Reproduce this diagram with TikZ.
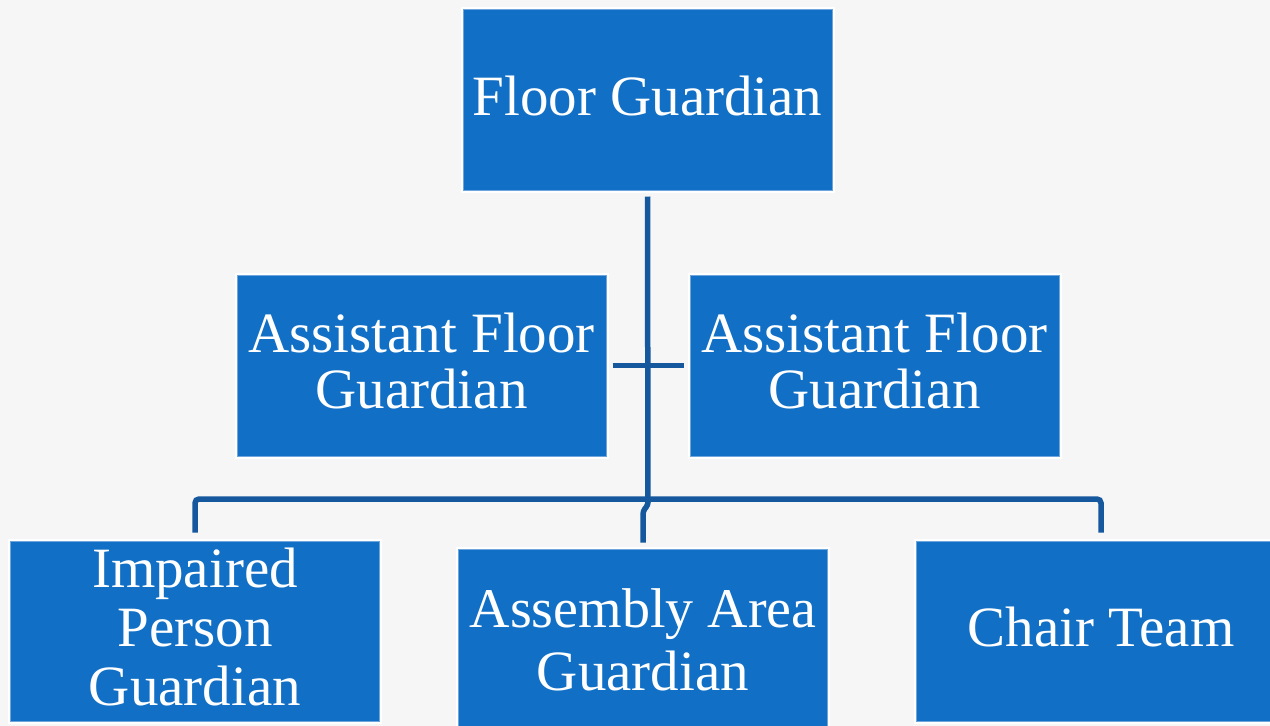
\documentclass[tikz,border=0pt]{standalone}
\usepackage{fontspec}
\setmainfont{Liberation Serif}
\definecolor{bg}{RGB}{246,246,246}
\definecolor{boxblue}{RGB}{17,112,198}
\definecolor{boxedge}{RGB}{110,165,220}
\definecolor{linkblue}{RGB}{22,88,158}
\begin{document}
\begin{tikzpicture}[x=1pt,y=-1pt,
  box/.style={draw=boxedge, line width=1pt, fill=boxblue, minimum width=369pt,
    minimum height=181pt, inner sep=0pt,
    preaction={draw=white, line width=5pt}},
  lbl/.style={text=white, font=\fontsize{57}{57}\selectfont, inner sep=0pt, anchor=base},
  conn/.style={draw=linkblue, line width=5.5pt}]
\useasboundingbox (0,0) rectangle (1270,726);
\fill[bg] (0,0) rectangle (1270,726);
\begin{scope}
\clip (0,0) rectangle (1270,726);
\node[box] (fg) at (647.5,99.5) {};
\node[box] (afl) at (421.5,365.5) {};
\node[box] (afr) at (874.5,365.5) {};
\node[box, minimum height=180pt] (ipg) at (195,631) {};
\node[box] (aag) at (643,639.5) {};
\node[box, minimum height=180pt, minimum width=370pt] (ct) at (1101,631) {};
\end{scope}
\node[lbl] (fgt) at (647.5,115) {Floor Guardian};
\node[lbl] (afl1) at (421.5,352) {Assistant Floor};
\node[lbl] (afl2) at (421.5,408) {Guardian};
\node[lbl] (afr1) at (874.5,352) {Assistant Floor};
\node[lbl] (afr2) at (874.5,408) {Guardian};
\node[lbl] (ipg1) at (195,587) {Impaired};
\node[lbl] (ipg2) at (195,646) {Person};
\node[lbl] (ipg3) at (195,705) {Guardian};
\node[lbl, font=\fontsize{56}{56}\selectfont] (aag1) at (643,627) {Assembly Area};
\node[lbl] (aag2) at (643,690) {Guardian};
\node[lbl] (ct1) at (1101,646) {Chair Team};
% connectors
\coordinate (jogA) at (648,505);
\coordinate (jogB) at (643,511);
\draw[conn, rounded corners=3pt] ([yshift=-6pt]fg.south) -- (jogA) -- (jogB) -- ([yshift=6pt]aag.north);
\draw[conn] ([xshift=6pt]afl.east) -- ([xshift=-6pt]afr.west);
\draw[conn, rounded corners=4pt] ([yshift=8pt]ipg.north) -- (ipg.north |- 0,499) -- (ct.north |- 0,499) -- ([yshift=8pt]ct.north);
\end{tikzpicture}
\end{document}
